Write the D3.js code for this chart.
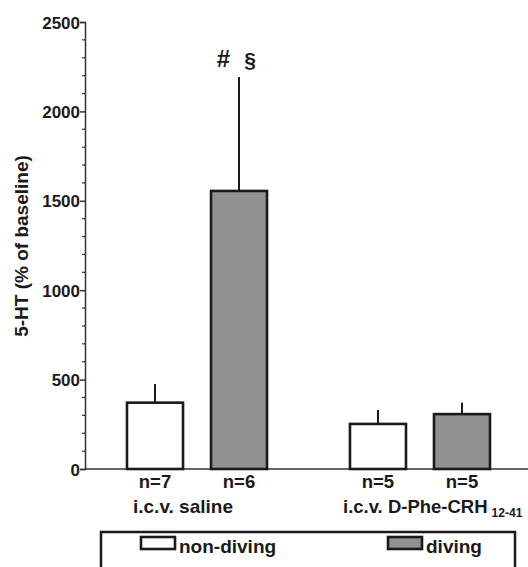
<!DOCTYPE html>
<html>
<head>
<meta charset="utf-8">
<script src="https://cdn.jsdelivr.net/npm/d3@7"></script>
<style>
  body { margin: 0; background: #fff; }
  text { font-family: "Liberation Sans", Arial, sans-serif; font-weight: bold; fill: #1a1a1a; }
</style>
</head>
<body>
<script>
// data
var groups = ['i.c.v. saline', 'i.c.v. D-Phe-CRH'];
var conditions = ['non-diving', 'diving'];
var means = [[371, 1555], [252, 307]];
var errs = [[104, 637], [78, 64]];
var ns = [['n=7', 'n=6'], ['n=5', 'n=5']];
var yTicks = [0, 500, 1000, 1500, 2000, 2500];
var fills = ['#ffffff', '#919192'];

var W = 528, H = 567;
var svg = d3.select('body').append('svg').attr('width', W).attr('height', H);

// plot edges ("top" is a window global, so prefixed names)
var plotL = 85, plotR = 528, plotT = 22, plotB = 469;

var y = d3.scaleLinear().domain([0, 2500]).range([plotB, plotT]);

// two groups of two bars
var x0 = d3.scaleBand().domain(groups).range([127, 490]).paddingInner(0.372);
var x1 = d3.scaleBand().domain(conditions).range([0, x0.bandwidth()]).paddingInner(1 / 3);

// y axis
var yAxis = d3.axisLeft(y).tickValues(yTicks).tickSize(5).tickFormat(d3.format('d'));
var ya = svg.append('g').attr('transform', 'translate(' + plotL + ',0)').call(yAxis);
ya.select('.domain').attr('stroke', '#333').attr('stroke-width', 1.5);
ya.selectAll('.tick line').attr('stroke', '#333').attr('stroke-width', 1.5);
ya.selectAll('.tick text').attr('font-size', 17).attr('x', -5).attr('dy', '0.36em')
  .attr('font-family', '"Liberation Sans", Arial, sans-serif').attr('font-weight', 'bold').attr('fill', '#1a1a1a');

// minor ticks every 100
var minor = d3.range(100, 2500, 100).filter(function(v){ return v % 500 !== 0; });
svg.selectAll('.minor').data(minor).enter().append('line')
  .attr('x1', plotL - 3).attr('x2', plotL)
  .attr('y1', function(d){ return y(d); }).attr('y2', function(d){ return y(d); })
  .attr('stroke', '#333').attr('stroke-width', 1.2);

// x baseline
svg.append('line').attr('x1', plotL).attr('x2', plotR).attr('y1', plotB).attr('y2', plotB)
  .attr('stroke', '#333').attr('stroke-width', 1.5);

// y title
svg.append('text')
  .attr('transform', 'translate(28,246) rotate(-90)')
  .attr('text-anchor', 'middle').attr('font-size', 19)
  .text('5-HT (% of baseline)');

// bars
var bars = [];
groups.forEach(function(g, i){
  conditions.forEach(function(c, j){
    bars.push({g: g, c: c, j: j, v: means[i][j], e: errs[i][j], n: ns[i][j]});
  });
});

var bx = function(d){ return x0(d.g) + x1(d.c); };

// error bars (upper half only)
svg.selectAll('.err').data(bars).enter().append('line')
  .attr('x1', function(d){ return bx(d) + x1.bandwidth() / 2; })
  .attr('x2', function(d){ return bx(d) + x1.bandwidth() / 2; })
  .attr('y1', function(d){ return y(d.v); })
  .attr('y2', function(d){ return y(d.v + d.e); })
  .attr('stroke', '#1a1a1a').attr('stroke-width', 2);

svg.selectAll('.bar').data(bars).enter().append('rect')
  .attr('x', bx)
  .attr('y', function(d){ return y(d.v); })
  .attr('width', x1.bandwidth())
  .attr('height', function(d){ return plotB - y(d.v); })
  .attr('fill', function(d){ return fills[d.j]; })
  .attr('stroke', '#1a1a1a').attr('stroke-width', 2.6);

// n labels
svg.selectAll('.nlab').data(bars).enter().append('text')
  .attr('x', function(d){ return bx(d) + x1.bandwidth() / 2; })
  .attr('y', plotB + 19)
  .attr('text-anchor', 'middle').attr('font-size', 18.5)
  .text(function(d){ return d.n; });

// group labels
svg.append('text').attr('x', 183).attr('y', 513).attr('text-anchor', 'middle').attr('font-size', 19)
  .text(groups[0]);
var g2 = svg.append('text').attr('x', 343).attr('y', 513).attr('font-size', 18.5).text(groups[1]);
g2.append('tspan').attr('font-size', 12).attr('dx', 4).attr('dy', 4).text('12-41');

// significance marks above the big error bar
var big = bars[1];
svg.append('text').attr('x', 223.5).attr('y', y(big.v + big.e) - 10).attr('text-anchor', 'middle')
  .attr('font-size', 24).text('#');
svg.append('text').attr('x', 250).attr('y', y(big.v + big.e) - 10).attr('text-anchor', 'middle')
  .attr('font-size', 21).text('§');

// legend
svg.append('rect').attr('x', 101).attr('y', 532).attr('width', 414).attr('height', 50)
  .attr('fill', 'none').attr('stroke', '#1a1a1a').attr('stroke-width', 2.5);
var legX = [141, 388];
conditions.forEach(function(c, j){
  svg.append('rect').attr('x', legX[j]).attr('y', 537).attr('width', 34).attr('height', 12)
    .attr('fill', fills[j]).attr('stroke', '#1a1a1a').attr('stroke-width', 2.6);
  svg.append('text').attr('x', legX[j] + 38).attr('y', 553).attr('font-size', 19).text(c);
});
</script>
</body>
</html>
